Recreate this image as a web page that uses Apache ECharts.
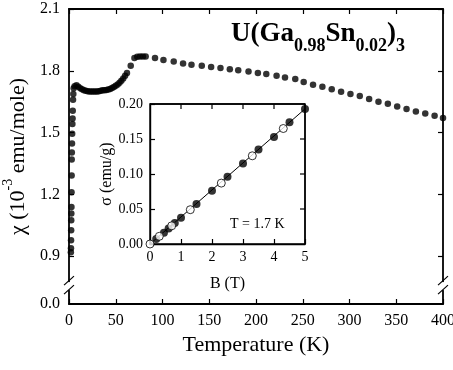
<!DOCTYPE html>
<html>
<head>
<meta charset="utf-8">
<script src="https://cdn.jsdelivr.net/npm/echarts@6/dist/echarts.min.js"></script>
<style>
html, body { margin: 0; padding: 0; background: #fff; }
#main { width: 453px; height: 370px; }
</style>
</head>
<body>
<div id="main"></div>
<script>
// main curve: susceptibility vs temperature
var tempK = [2.0, 2.1, 2.2, 2.3, 2.4, 2.5, 2.6, 2.7, 2.8, 2.9, 3.0, 3.2, 3.4, 3.6, 3.8, 4.0, 4.3, 4.6, 5.0,
	6, 8, 10, 12, 14, 16, 18, 20, 22, 24, 26, 28, 30, 32, 34, 36, 38, 40, 42, 44, 46, 48, 50, 52, 54, 56, 58,
	60, 62, 66, 70, 73, 76, 79, 82,
	92, 101, 112, 122, 131, 142, 152, 162, 172, 181, 192, 202, 211, 222, 231, 242, 251, 261, 271, 281, 291,
	301, 311, 321, 331, 341, 351, 361, 371, 381, 391, 400];
var chi = [0.919, 0.939, 0.977, 1.026, 1.074, 1.107, 1.139, 1.210, 1.292, 1.369, 1.403, 1.447, 1.495, 1.542, 1.568, 1.606, 1.660, 1.687, 1.715,
	1.725, 1.730, 1.722, 1.715, 1.710, 1.706, 1.703, 1.701, 1.700, 1.699, 1.699, 1.699, 1.700, 1.701, 1.703, 1.705, 1.706, 1.707, 1.709, 1.712, 1.716, 1.721, 1.727, 1.734, 1.742, 1.752, 1.763,
	1.776, 1.789, 1.824, 1.862, 1.868, 1.870, 1.870, 1.869,
	1.862, 1.853, 1.845, 1.835, 1.829, 1.824, 1.819, 1.813, 1.808, 1.803, 1.797, 1.789, 1.784, 1.776, 1.768, 1.760, 1.746, 1.732, 1.723, 1.710, 1.698,
	1.687, 1.678, 1.663, 1.650, 1.640, 1.627, 1.615, 1.603, 1.593, 1.582, 1.571];

// broken y axis: bottom of the axis is labelled 0.0
var yTickValues = [0.668, 0.9, 1.2, 1.5, 1.8, 2.1];
var yTickLabels = ['0.0', '0.9', '1.2', '1.5', '1.8', '2.1'];
var breakValue = 0.755;

// inset: magnetisation vs field at 1.7 K
var fieldFilled = [0.2, 0.45, 0.6, 0.8, 1.0, 1.5, 2.0, 2.5, 3.0, 3.5, 4.0, 4.5, 5.0];
var sigmaFilled = [0.007, 0.016, 0.022, 0.030, 0.0376, 0.057, 0.076, 0.096, 0.115, 0.135, 0.153, 0.174, 0.193];
var fieldOpen = [0, 0.3, 0.7, 1.3, 2.3, 3.3, 4.3];
var sigmaOpen = [0, 0.011, 0.026, 0.049, 0.087, 0.126, 0.165];
var fitField = [0, 5];
var fitSigma = [0, 0.193];
var insetTopTicks = [1, 2, 3, 4];
var insetRightTicks = [0.05, 0.10, 0.15];

function pairs(xs, ys) {
	var out = [];
	for (var i = 0; i < xs.length; i++) out.push([xs[i], ys[i]]);
	return out;
}

var serif = 'Liberation Serif';
var black = '#000';

var myChart = echarts.init(document.getElementById('main'));

function axisLine(w) {
	return { show: true, onZero: false, lineStyle: { color: black, width: w } };
}
function tick(vals) {
	var t = { show: true, inside: true, length: 5, lineStyle: { color: black, width: 1.2 } };
	if (vals) t.customValues = vals;
	return t;
}

option = {
	animation: false,
	backgroundColor: '#fff',
	title: {
		left: 231,
		top: 21,
		padding: 0,
		text: '{m|U(Ga}{s|0.98}{m|Sn}{s|0.02}{m|)}{s|3}',
		textStyle: {
			rich: {
				m: { fontFamily: serif, fontWeight: 'bold', fontSize: 27, lineHeight: 27, color: black, verticalAlign: 'top' },
				s: { fontFamily: serif, fontWeight: 'bold', fontSize: 18, lineHeight: 18, color: black, verticalAlign: 'top', padding: [16, 0, 0, 0] }
			}
		}
	},
	grid: [
		{ left: 69, top: 9, right: 10, bottom: 66, outerBoundsMode: 'none' },
		{ left: 150, top: 104, width: 155, height: 140, outerBoundsMode: 'none',
			show: true, borderColor: black, borderWidth: 1.4 }
	],
	xAxis: [
		{
			gridIndex: 0, type: 'value', min: 0, max: 400, interval: 50, position: 'bottom',
			name: 'Temperature (K)', nameLocation: 'middle', nameGap: 29,
			nameTextStyle: { fontFamily: serif, fontSize: 22, color: black },
			axisLine: axisLine(1.8),
			axisTick: tick(),
			axisLabel: { fontFamily: serif, fontSize: 16, color: black, margin: 9 },
			splitLine: { show: false }
		},
		{
			gridIndex: 0, type: 'value', min: 0, max: 400, interval: 50, position: 'top',
			axisLine: axisLine(1.8),
			axisTick: tick(),
			axisLabel: { show: false },
			splitLine: { show: false }
		},
		{
			gridIndex: 1, type: 'value', min: 0, max: 5, interval: 1, position: 'bottom',
			name: 'B (T)', nameLocation: 'middle', nameGap: 32,
			nameTextStyle: { fontFamily: serif, fontSize: 16, color: black },
			axisLine: axisLine(1.4),
			axisTick: tick(),
			axisLabel: { fontFamily: serif, fontSize: 14, color: black, margin: 6 },
			splitLine: { show: false }
		}
	],
	yAxis: [
		{
			gridIndex: 0, type: 'value', min: yTickValues[0], max: 2.1, position: 'left',
			name: '{m|χ (10}{p|-3}{m| emu/mole)}', nameLocation: 'middle', nameGap: 30,
			nameTextStyle: {
				rich: {
					m: { fontFamily: serif, fontSize: 22, lineHeight: 22, color: black, verticalAlign: 'top', padding: [6, 0, 0, 0] },
					p: { fontFamily: serif, fontSize: 14, lineHeight: 14, color: black, verticalAlign: 'top' }
				}
			},
			axisLine: axisLine(1.8),
			axisTick: tick(yTickValues.slice(1)),
			axisLabel: {
				fontFamily: serif, fontSize: 16, color: black, margin: 9,
				customValues: yTickValues,
				formatter: function(v) {
					for (var i = 0; i < yTickValues.length; i++) {
						if (Math.abs(yTickValues[i] - v) < 1e-6) return yTickLabels[i];
					}
					return '';
				}
			},
			splitLine: { show: false }
		},
		{
			gridIndex: 0, type: 'value', min: yTickValues[0], max: 2.1, position: 'right',
			axisLine: axisLine(1.8),
			axisTick: tick(yTickValues.slice(1)),
			axisLabel: { show: false },
			splitLine: { show: false }
		},
		{
			gridIndex: 1, type: 'value', min: 0, max: 0.2, interval: 0.05, position: 'left',
			name: 'σ (emu/g)', nameLocation: 'middle', nameGap: 35,
			nameTextStyle: { fontFamily: serif, fontSize: 16, color: black },
			axisLine: axisLine(1.4),
			axisTick: tick(),
			axisLabel: { fontFamily: serif, fontSize: 14, color: black, margin: 7,
				formatter: function(v) { return v.toFixed(2); } },
			splitLine: { show: false }
		}
	],
	series: [
		{
			name: 'chi', type: 'scatter', xAxisIndex: 0, yAxisIndex: 0,
			symbol: 'circle', symbolSize: 6.5,
			itemStyle: { color: black },
			data: pairs(tempK, chi)
		},
		{
			name: 'fit', type: 'line', xAxisIndex: 2, yAxisIndex: 2,
			showSymbol: false, symbol: 'none', z: 6,
			lineStyle: { color: black, width: 1 },
			data: pairs(fitField, fitSigma)
		},
		{
			name: 'filled', type: 'scatter', xAxisIndex: 2, yAxisIndex: 2, z: 7,
			symbol: 'circle', symbolSize: 8,
			itemStyle: { color: black },
			data: pairs(fieldFilled, sigmaFilled)
		},
		{
			name: 'open', type: 'scatter', xAxisIndex: 2, yAxisIndex: 2, z: 7,
			symbol: 'circle', symbolSize: 8,
			itemStyle: { color: '#fff', borderColor: black, borderWidth: 1 },
			data: pairs(fieldOpen, sigmaOpen)
		}
	]
};
myChart.setOption(option);

// break marks on both y axes, inset frame (top/right) with ticks, and the inset temperature note
var yb = myChart.convertToPixel({ yAxisIndex: 0 }, breakValue);
var xl = myChart.convertToPixel({ xAxisIndex: 0 }, 0);
var xr = myChart.convertToPixel({ xAxisIndex: 0 }, 400);
function breakMark(x) {
	return [
		{ type: 'rect', shape: { x: x - 3, y: yb - 4, width: 6, height: 8 }, style: { fill: '#fff' }, z: 20 },
		{ type: 'line', shape: { x1: x - 5, y1: yb - 1, x2: x + 5, y2: yb - 10 }, style: { stroke: black, lineWidth: 1.2 }, z: 21 },
		{ type: 'line', shape: { x1: x - 5, y1: yb + 8, x2: x + 5, y2: yb - 1 }, style: { stroke: black, lineWidth: 1.2 }, z: 21 }
	];
}
var insetLeft = myChart.convertToPixel({ xAxisIndex: 2 }, 0);
var insetRight = myChart.convertToPixel({ xAxisIndex: 2 }, 5);
var insetTop = myChart.convertToPixel({ yAxisIndex: 2 }, 0.2);
var insetBottom = myChart.convertToPixel({ yAxisIndex: 2 }, 0);
var frameStyle = { stroke: black, lineWidth: 1.4 };
var insetFrame = [
	{ type: 'line', zlevel: 1, z: 30, shape: { x1: insetLeft, y1: insetTop, x2: insetRight, y2: insetTop }, style: frameStyle },
	{ type: 'line', zlevel: 1, z: 30, shape: { x1: insetRight, y1: insetTop, x2: insetRight, y2: insetBottom }, style: frameStyle }
];
insetTopTicks.forEach(function(b) {
	var px = myChart.convertToPixel({ xAxisIndex: 2 }, b);
	insetFrame.push({ type: 'line', zlevel: 1, z: 30, shape: { x1: px, y1: insetTop, x2: px, y2: insetTop + 5 }, style: { stroke: black, lineWidth: 1.2 } });
});
insetRightTicks.forEach(function(s) {
	var py = myChart.convertToPixel({ yAxisIndex: 2 }, s);
	insetFrame.push({ type: 'line', zlevel: 1, z: 30, shape: { x1: insetRight - 5, y1: py, x2: insetRight, y2: py }, style: { stroke: black, lineWidth: 1.2 } });
});
myChart.setOption({
	graphic: breakMark(xl).concat(breakMark(xr)).concat(insetFrame).concat([
		{ type: 'text', left: 230, top: 217, z: 20,
			style: { text: 'T = 1.7 K', fontFamily: serif, fontSize: 14, fill: black } }
	])
});
</script>
</body>
</html>
